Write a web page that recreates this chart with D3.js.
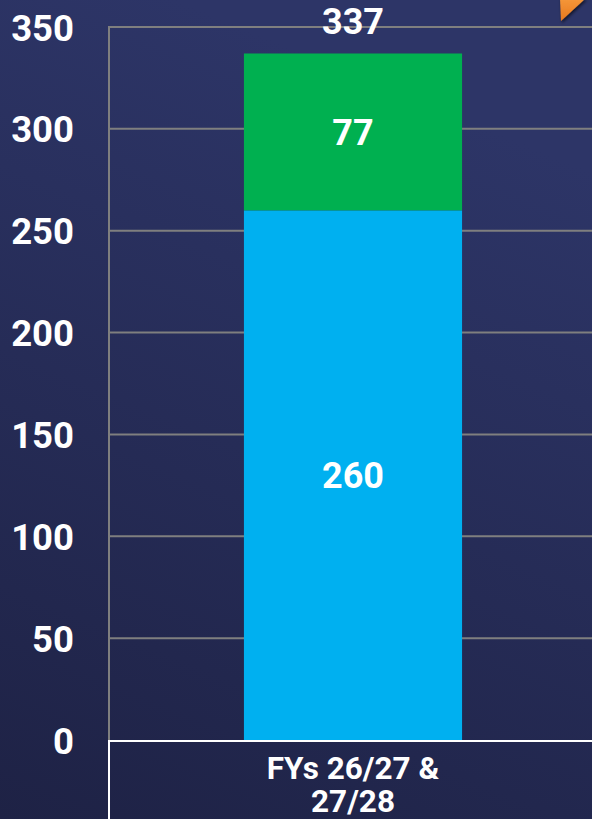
<!DOCTYPE html>
<html>
<head>
<meta charset="utf-8">
<script src="https://cdn.jsdelivr.net/npm/d3@7"></script>
<style>
  html, body { margin: 0; padding: 0; }
  body { width: 592px; height: 819px; overflow: hidden; }
  text { font-family: Roboto, "Noto Sans", sans-serif; font-weight: 700; fill: #fff; }
</style>
</head>
<body>
<div id="outer"></div>
<script>
////////// DATA //////////
const categories = ['FYs 26/27 & 27/28'];
const categoryLines = [['FYs 26/27 &', '27/28']];
const baseValues = [260];
const topValues = [77];
const totals = [337];
const yTicks = [0, 50, 100, 150, 200, 250, 300, 350];

////////// SIZING //////////
const width = 592;
const height = 819;
const margin = {top: 27, left: 109, bottom: 79};
const plotBottom = height - margin.bottom;

const svg = d3.select('#outer').append('svg')
  .attr('width', width)
  .attr('height', height);

// BACKGROUND //
const defs = svg.append('defs');
const bg = defs.append('linearGradient')
  .attr('id', 'bg').attr('x1', '0.3').attr('y1', '0').attr('x2', '0').attr('y2', '1');
bg.append('stop').attr('offset', '0%').attr('stop-color', '#2d3567');
bg.append('stop').attr('offset', '100%').attr('stop-color', '#1e2245');
const orange = defs.append('linearGradient')
  .attr('id', 'orange').attr('x1', '0').attr('y1', '0').attr('x2', '0').attr('y2', '1');
orange.append('stop').attr('offset', '0%').attr('stop-color', '#f5983a');
orange.append('stop').attr('offset', '100%').attr('stop-color', '#e8781e');
const shadow = defs.append('filter').attr('id', 'shadow')
  .attr('x', '-50%').attr('y', '-50%').attr('width', '200%').attr('height', '200%');
shadow.append('feDropShadow').attr('dx', 1).attr('dy', 2).attr('stdDeviation', 1.5)
  .attr('flood-color', '#000').attr('flood-opacity', 0.6);

svg.append('rect').attr('width', width).attr('height', height).attr('fill', 'url(#bg)');

// SCALES //
const y = d3.scaleLinear().domain([0, 350]).range([plotBottom, margin.top]);
const x = d3.scaleBand().domain(categories).range([margin.left, 597])
  .paddingInner(0.553).paddingOuter(0.2765);

// GRIDLINES //
svg.append('g').selectAll('line')
  .data(yTicks.filter(d => d > 0))
  .join('line')
  .attr('x1', margin.left).attr('x2', width)
  .attr('y1', d => y(d)).attr('y2', d => y(d))
  .attr('stroke', '#7f7f7f').attr('stroke-width', 2);

svg.append('line')
  .attr('x1', margin.left).attr('x2', margin.left)
  .attr('y1', y(350) - 1).attr('y2', plotBottom)
  .attr('stroke', '#7f7f7f').attr('stroke-width', 2);

// Y AXIS LABELS //
const yAxis = d3.axisLeft(y).tickValues(yTicks).tickSize(0).tickPadding(0);
const yG = svg.append('g').attr('transform', 'translate(74,0)').call(yAxis);
yG.select('.domain').remove();
yG.selectAll('text')
  .attr('font-size', '36.5px')
  .attr('dy', '0.36em')
  .style('font-family', 'Roboto, sans-serif')
  .style('font-weight', 700)
  .attr('fill', '#fff');

// BARS //
const bars = svg.append('g');
bars.selectAll('.base').data(categories).join('rect')
  .attr('class', 'base')
  .attr('x', d => x(d)).attr('width', x.bandwidth())
  .attr('y', (d, i) => y(baseValues[i]))
  .attr('height', (d, i) => y(0) - y(baseValues[i]))
  .attr('fill', '#00b0f0');
bars.selectAll('.top').data(categories).join('rect')
  .attr('class', 'top')
  .attr('x', d => x(d)).attr('width', x.bandwidth())
  .attr('y', (d, i) => y(baseValues[i] + topValues[i]))
  .attr('height', (d, i) => y(baseValues[i]) - y(baseValues[i] + topValues[i]))
  .attr('fill', '#00b050');

// BAR LABELS //
const cx = d => x(d) + x.bandwidth() / 2;
svg.selectAll('.lblBase').data(categories).join('text')
  .attr('x', cx).attr('y', (d, i) => y(baseValues[i] / 2))
  .attr('dy', '0.36em').attr('text-anchor', 'middle').attr('font-size', '36px')
  .text((d, i) => baseValues[i]);
svg.selectAll('.lblTop').data(categories).join('text')
  .attr('x', cx).attr('y', (d, i) => y(baseValues[i] + topValues[i] / 2))
  .attr('dy', '0.36em').attr('text-anchor', 'middle').attr('font-size', '36px')
  .text((d, i) => topValues[i]);
svg.selectAll('.lblTotal').data(categories).join('text')
  .attr('x', cx).attr('y', (d, i) => y(totals[i]) - 19)
  .attr('text-anchor', 'middle').attr('font-size', '36px')
  .text((d, i) => totals[i]);

// X AXIS BOX //
svg.append('rect')
  .attr('x', margin.left).attr('y', plotBottom + 1)
  .attr('width', width).attr('height', 200)
  .attr('fill', 'none').attr('stroke', '#fff').attr('stroke-width', 2);

svg.selectAll('.xlbl').data(categories).join('text')
  .attr('x', cx).attr('y', 779)
  .attr('text-anchor', 'middle').attr('font-size', '31.5px')
  .selectAll('tspan').data((d, i) => categoryLines[i]).join('tspan')
  .attr('x', function() { return cx(d3.select(this.parentNode).datum()); })
  .attr('dy', (d, i) => i === 0 ? 0 : 33)
  .text(d => d);

// ORANGE CORNER MARK //
svg.append('path')
  .attr('d', 'M560,-2 L586,-2 L561,21 Z')
  .attr('fill', 'url(#orange)')
  .attr('filter', 'url(#shadow)');
</script>
</body>
</html>
